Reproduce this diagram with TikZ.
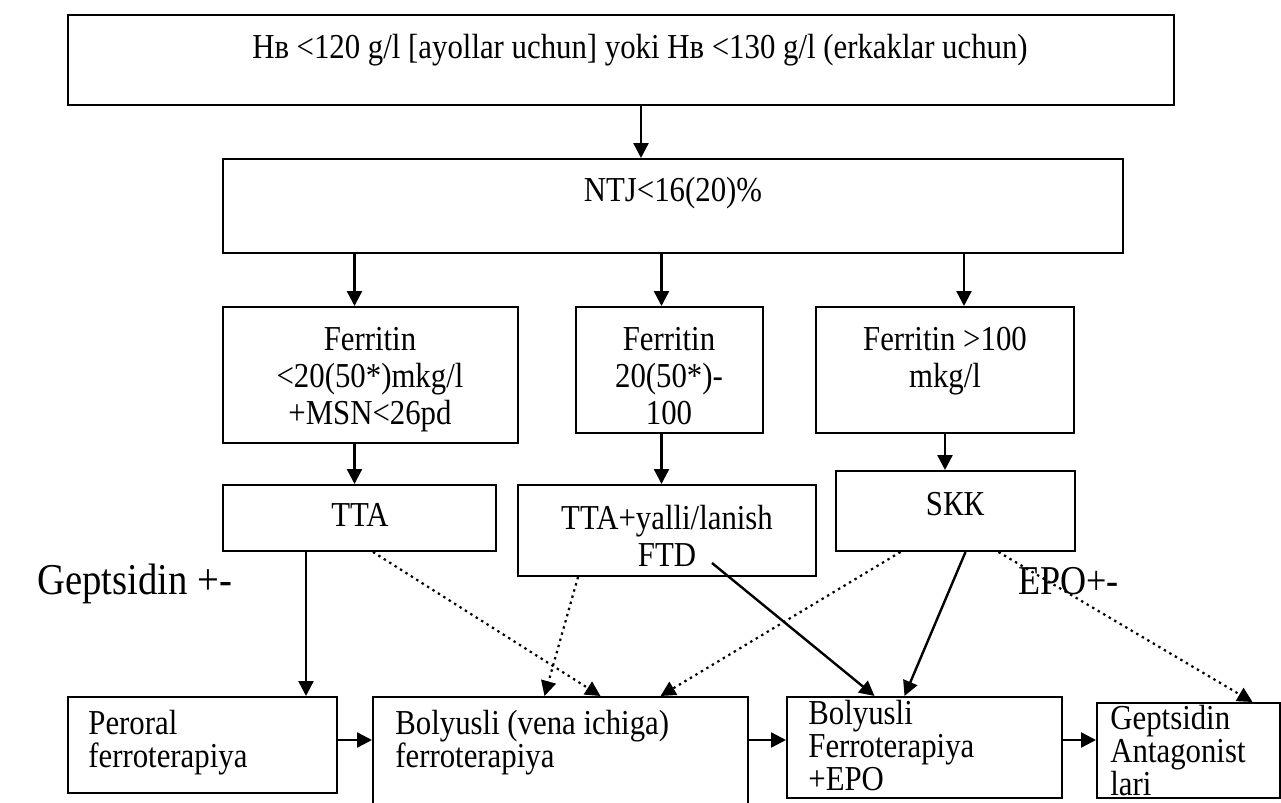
\documentclass[tikz,border=0pt]{standalone}
\usepackage{fontspec}
\setmainfont{Liberation Serif}[FakeStretch=0.88]
\usetikzlibrary{arrows.meta}
\usetikzlibrary{positioning}
\usetikzlibrary{fit}
\tikzstyle{box}=[draw=black, line width=1pt, rectangle, inner sep=0pt]
\tikzstyle{txt}=[inner sep=0pt, align=center, font=\fontsize{17.5}{18.5}\selectfont]
\tikzstyle{ltxt}=[txt, align=left, anchor=north west, font=\fontsize{17.5}{16.4}\selectfont]
\tikzstyle{big}=[inner sep=0pt, anchor=base west, font=\fontsize{22}{24}\selectfont]
\tikzstyle{arr}=[-{Triangle[length=7.5pt,width=7.5pt]}, line width=1.2pt]
\tikzstyle{dotarr}=[arr, dotted, line width=1.1pt]

\begin{document}
\begin{tikzpicture}[x=0.5pt, y=-0.5pt]
    \useasboundingbox (0,0) rectangle (1281,803);
    % boxes
    \node[box, fit={(68,15) (1174,105)}] (hb) {};
    \node[box, fit={(223,159) (1123,253)}] (ntj) {};
    \node[box, fit={(223,307) (518,443)}] (f1) {};
    \node[box, fit={(576,307) (763,433)}] (f2) {};
    \node[box, fit={(816,307) (1074,433)}] (f3) {};
    \node[box, fit={(223,485) (496,551)}] (tta) {};
    \node[box, fit={(518,485) (816,576)}] (ttay) {};
    \node[box, fit={(836,471) (1075,551)}] (skk) {};
    \node[box, fit={(68,697) (337,793)}] (per) {};
    \node[box, fit={(373,697) (748,830)}] (bol) {};
    \node[box, fit={(787,697) (1062,798)}] (bfe) {};
    \node[box, fit={(1097,703) (1280,798)}] (gan) {};
    % texts
    \node[txt, anchor=north] (hbt) at (640,34) {Hв <120 g/l [ayollar uchun] yoki Hв <130 g/l (erkaklar uchun)};
    \node[txt, anchor=north] (ntjt) at (673,177) {NTJ<16(20)\%};
    \node[txt, anchor=north] (f1t) at (370,327) {Ferritin\\<20(50*)mkg/l\\+MSN<26pd};
    \node[txt, anchor=north] (f2t) at (669,327) {Ferritin\\20(50*)-\\100};
    \node[txt, anchor=north] (f3t) at (945,327) {Ferritin >100\\mkg/l};
    \node[txt, anchor=north] (ttat) at (360,503) {TTA};
    \node[txt, anchor=north] (ttayt) at (667,505) {TTA+yalli/lanish\\FTD};
    \node[txt, anchor=north] (skkt) at (955,492) {SКК};
    \node[big] (geps) at (37,594) {Geptsidin +-};
    \node[big, font=\fontsize{20.5}{24}\selectfont] (epo) at (1018,594) {EPO+-};
    \node[ltxt] (pert) at (88,710) {Peroral\\ferroterapiya};
    \node[ltxt] (bolt) at (395,710) {Bolyusli (vena ichiga)\\ferroterapiya};
    \node[ltxt] (bfet) at (808,700) {Bolyusli\\Ferroterapiya\\+EPO};
    \node[ltxt] (gant) at (1110,705) {Geptsidin\\Antagonist\\lari};
    % arrow positions
    \coordinate (x0) at ([xshift=10pt]hb.south);
    \coordinate (x1) at ([xshift=-8pt]f1.north);
    \coordinate (x2) at ([xshift=-4pt]f2.north);
    \coordinate (x3) at ([xshift=9.5pt]f3.north);
    \coordinate (hy) at (0,740);
    \coordinate (ftd) at (712,563);
    % solid arrows
    \draw[arr] (x0) -- (ntj.north -| x0);
    \draw[arr] (ntj.south -| x1) -- (x1);
    \draw[arr] (ntj.south -| x2) -- (x2);
    \draw[arr] (ntj.south -| x3) -- (x3);
    \draw[arr] (f1.south -| x1) -- (tta.north -| x1);
    \draw[arr] (f2.south -| x2) -- (ttay.north -| x2);
    \draw[arr] (f3.south) -- (skk.north -| f3.south);
    \draw[arr] ([xshift=-26.75pt]tta.south) -- ([xshift=51.75pt]per.north);
    \draw[arr] (ftd) -- ([xshift=-25pt]bfe.north);
    \draw[arr] ([xshift=5pt]skk.south) -- ([xshift=-10pt]bfe.north);
    \draw[arr] (per.east |- hy) -- (bol.west |- hy);
    \draw[arr] (bol.east |- hy) -- (bfe.west |- hy);
    \draw[arr] (bfe.east |- hy) -- (gan.west |- hy);
    % dotted arrows
    \draw[dotarr] ([xshift=6.75pt]tta.south) -- ([xshift=20pt]bol.north);
    \draw[dotarr] ([xshift=-44.5pt]ttay.south) -- ([xshift=-8pt]bol.north);
    \draw[dotarr] ([xshift=-27.5pt]skk.south) -- ([xshift=50pt]bol.north);
    \draw[dotarr] ([xshift=21.5pt]skk.south) -- ([xshift=32pt]gan.north);
\end{tikzpicture}
\end{document}
